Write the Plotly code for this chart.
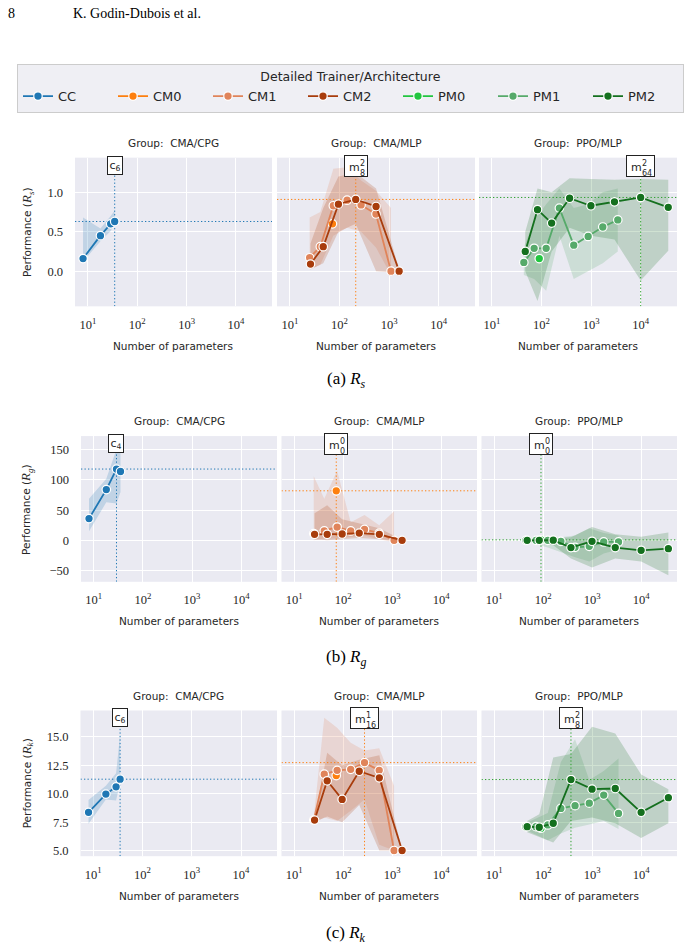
import numpy as np
import plotly.graph_objects as go

W, H = 691, 949

# ---------------- data ----------------
SERIES = ["CC", "CM0", "CM1", "CM2", "PM0", "PM1", "PM2"]
COLORS = {"CC": "#1f77b4", "CM0": "#fd7f0e", "CM1": "#e0845a", "CM2": "#a83c0c",
          "PM0": "#22c640", "PM1": "#56aa6a", "PM2": "#14701e"}
GROUPS = ["CMA/CPG", "CMA/MLP", "PPO/MLP"]
GROUP_SERIES = {"CMA/CPG": ["CC"], "CMA/MLP": ["CM0", "CM1", "CM2"], "PPO/MLP": ["PM0", "PM1", "PM2"]}
GROUP_REF_COLOR = {"CMA/CPG": "#1f77b4", "CMA/MLP": "#ff7f0e", "PPO/MLP": "#2ca02c"}

X_CC = [8, 18, 29, 35]
X_CM0 = [72]
X_CM1 = [25, 41, 75, 142, 272, 542, 1090]
X_CM2 = [26, 47, 95, 212, 545, 1590]
X_PM0 = [90]
X_PM1 = [44, 71, 124, 229, 446, 870, 1715, 3440]
X_PM2 = [47, 83, 160, 368, 990, 2950, 9950, 35800]
XS = {"CC": X_CC, "CM0": X_CM0, "CM1": X_CM1, "CM2": X_CM2, "PM0": X_PM0, "PM1": X_PM1, "PM2": X_PM2}

# R_s
RS_CC = [0.16, 0.45, 0.60, 0.63]
RS_CC_LO = [0.12, 0.38, 0.51, 0.60]
RS_CC_HI = [0.68, 0.54, 0.70, 0.77]
RS_CM0 = [0.60]
RS_CM1 = [0.17, 0.31, 0.83, 0.90, 0.84, 0.725, 0.0]
RS_CM1_LO = [0.02, 0.08, 0.45, 0.55, 0.50, 0.30, -0.05]
RS_CM1_HI = [0.68, 0.75, 1.30, 1.32, 1.15, 1.02, 0.80]
RS_CM2 = [0.09, 0.31, 0.85, 0.91, 0.82, 0.0]
RS_CM2_LO = [0.02, 0.10, 0.50, 0.60, 0.00, -0.02]
RS_CM2_HI = [0.35, 0.80, 1.20, 1.25, 1.05, 0.02]
RS_PM0 = [0.16]
RS_PM1 = [0.11, 0.29, 0.29, 0.80, 0.33, 0.44, 0.56, 0.65]
RS_PM1_LO = [-0.05, -0.10, -0.25, 0.45, -0.10, 0.00, 0.10, 0.25]
RS_PM1_HI = [0.30, 0.65, 0.85, 1.05, 0.80, 0.85, 1.00, 1.05]
RS_PM2 = [0.25, 0.78, 0.61, 0.925, 0.83, 0.88, 0.935, 0.81]
RS_PM2_LO = [0.00, -0.38, 0.25, 0.55, 0.45, 0.40, -0.12, 0.26]
RS_PM2_HI = [0.50, 1.05, 1.00, 1.18, 1.17, 1.16, 1.17, 1.16]

# R_g
RG_CC = [36, 84, 118, 114]
RG_CC_LO = [15, 63, 61, 80]
RG_CC_HI = [69, 102, 151, 148]
RG_CM0 = [82]
RG_CM1 = [11, 15.5, 22, 15.5, 18, 12, 0]
RG_CM1_LO = [0, 3, 3, 5, 8, 2, -3]
RG_CM1_HI = [106, 69, 115, 30, 42, 25, 48]
RG_CM2 = [10, 10, 10.5, 12, 10, 0]
RG_CM2_LO = [2, 0, 2, 4, 2, -1]
RG_CM2_HI = [45, 58, 35, 28, 20, 1]
RG_PM0 = [0.8]
RG_PM1 = [0, 0, 0, -1.6, -11.5, -9.9, -2.7, -2.7]
RG_PM1_LO = [-2, -6, -12, -20, -28, -35, -22, -15]
RG_PM1_HI = [1.5, 2, 2, 5, 8, 20, 12, 8]
RG_PM2 = [0, 0, 0.2, -12, -1.6, -12, -16.5, -13.8]
RG_PM2_LO = [-1, -3, -8, -30, -45, -30, -35, -58]
RG_PM2_HI = [1, 2, 4, 5, 22, 10, 6, 13]

# R_k
RK_CC = [8.36, 9.97, 10.61, 11.28]
RK_CC_LO = [7.35, 9.5, 9.4, 11.0]
RK_CC_HI = [9.45, 10.7, 11.8, 15.2]
RK_CM0 = [11.6]
RK_CM1 = [7.68, 11.72, 12.06, 12.15, 12.74, 12.06, 5.0]
RK_CM1_LO = [7.5, 7.9, 7.6, 8.5, 9.5, 5.5, 5.0]
RK_CM1_HI = [7.9, 16.7, 15.8, 14.5, 13.8, 14.0, 10.7]
RK_CM2 = [7.68, 11.14, 9.5, 11.98, 11.4, 5.0]
RK_CM2_LO = [7.5, 8.0, 7.5, 9.0, 5.0, 5.0]
RK_CM2_HI = [7.9, 13.6, 12.5, 13.0, 13.4, 5.0]
RK_PM0 = [6.96]
RK_PM1 = [7.10, 7.10, 7.25, 8.71, 8.95, 9.17, 9.88, 8.27]
RK_PM1_LO = [6.8, 6.4, 5.9, 6.5, 7.0, 7.3, 7.6, 6.9]
RK_PM1_HI = [7.4, 7.8, 8.3, 12.8, 14.8, 11.2, 12.0, 13.1]
RK_PM2 = [7.1, 7.05, 7.4, 11.25, 10.4, 10.46, 8.36, 9.65]
RK_PM2_LO = [6.6, 6.2, 5.7, 7.6, 7.9, 7.4, 6.1, 7.4]
RK_PM2_HI = [7.6, 8.2, 13.2, 13.5, 15.9, 15.3, 11.7, 10.4]

# best-model labels: (base letter, superscript, subscript)
BEST_RS = [("c", "", "6"), ("m", "2", "8"), ("m", "2", "64")]
BEST_RG = [("c", "", "4"), ("m", "0", "0"), ("m", "0", "0")]
BEST_RK = [("c", "", "6"), ("m", "1", "16"), ("m", "2", "8")]

ROWS = [
    {"Y": {"CC": RS_CC, "CM0": RS_CM0, "CM1": RS_CM1, "CM2": RS_CM2, "PM0": RS_PM0, "PM1": RS_PM1, "PM2": RS_PM2},
     "LO": {"CC": RS_CC_LO, "CM1": RS_CM1_LO, "CM2": RS_CM2_LO, "PM1": RS_PM1_LO, "PM2": RS_PM2_LO},
     "HI": {"CC": RS_CC_HI, "CM1": RS_CM1_HI, "CM2": RS_CM2_HI, "PM1": RS_PM1_HI, "PM2": RS_PM2_HI},
     "best_labels": BEST_RS, "sym": "s", "cap": "(a)"},
    {"Y": {"CC": RG_CC, "CM0": RG_CM0, "CM1": RG_CM1, "CM2": RG_CM2, "PM0": RG_PM0, "PM1": RG_PM1, "PM2": RG_PM2},
     "LO": {"CC": RG_CC_LO, "CM1": RG_CM1_LO, "CM2": RG_CM2_LO, "PM1": RG_PM1_LO, "PM2": RG_PM2_LO},
     "HI": {"CC": RG_CC_HI, "CM1": RG_CM1_HI, "CM2": RG_CM2_HI, "PM1": RG_PM1_HI, "PM2": RG_PM2_HI},
     "best_labels": BEST_RG, "sym": "g", "cap": "(b)"},
    {"Y": {"CC": RK_CC, "CM0": RK_CM0, "CM1": RK_CM1, "CM2": RK_CM2, "PM0": RK_PM0, "PM1": RK_PM1, "PM2": RK_PM2},
     "LO": {"CC": RK_CC_LO, "CM1": RK_CM1_LO, "CM2": RK_CM2_LO, "PM1": RK_PM1_LO, "PM2": RK_PM2_LO},
     "HI": {"CC": RK_CC_HI, "CM1": RK_CM1_HI, "CM2": RK_CM2_HI, "PM1": RK_PM1_HI, "PM2": RK_PM2_HI},
     "best_labels": BEST_RK, "sym": "k", "cap": "(c)"},
]
Y_TICKS = [[0, 0.5, 1.0], [-50, 0, 50, 100, 150], [5, 7.5, 10, 12.5, 15]]
Y_TICKFMT = [".1f", "d", ".1f"]
Y_RANGES = [[-0.447, 1.44], [-68.6, 172.6], [4.5, 17.33]]
X_LOG_RANGE = [0.74, 4.73]
X_TICKS = [10, 100, 1000, 10000]
X_TICKTEXT = ["10<sup>1</sup>", "10<sup>2</sup>", "10<sup>3</sup>", "10<sup>4</sup>"]

# ---------------- layout geometry (pixels) ----------------
ROW_Y = [(158, 307), (437, 583), (712, 858)]
COL_X = [[(75, 272), (277, 475), (479, 677)],
         [(81, 277), (281.5, 477), (481.5, 677)],
         [(80.5, 277), (281.5, 477), (481.5, 677)]]

SANS = "DejaVu Sans"
SERIF = "Liberation Serif"
TXT = "#262626"
DOT = "1.3px,2.2px"


def px(x):
    return x / W


def py(y):
    return 1 - y / H


def rgba(hexc, a):
    h = hexc.lstrip("#")
    return "rgba(%d,%d,%d,%g)" % (int(h[0:2], 16), int(h[2:4], 16), int(h[4:6], 16), a)


fig = go.Figure()
annotations = []
layout_axes = {}
legend_done = set()

for r, row in enumerate(ROWS):
    for c, grp in enumerate(GROUPS):
        idx = r * 3 + c + 1
        xa = "x" if idx == 1 else "x%d" % idx
        ya = "y" if idx == 1 else "y%d" % idx
        x0, x1 = COL_X[r][c]
        y0, y1 = ROW_Y[r]
        layout_axes["xaxis" if idx == 1 else "xaxis%d" % idx] = dict(
            type="log", range=X_LOG_RANGE, domain=[px(x0), px(x1)], anchor=ya,
            tickvals=X_TICKS, ticktext=X_TICKTEXT, showgrid=True, gridcolor="white", gridwidth=1.2,
            zeroline=False, showline=False, ticks="", ticklabelstandoff=9,
            tickfont=dict(family=SERIF, size=12.5, color=TXT))
        layout_axes["yaxis" if idx == 1 else "yaxis%d" % idx] = dict(
            range=Y_RANGES[r], domain=[py(y1), py(y0)], anchor=xa,
            tickvals=Y_TICKS[r], tickformat=Y_TICKFMT[r], showticklabels=(c == 0),
            showgrid=True, gridcolor="white", gridwidth=1.2, zeroline=False, showline=False,
            ticks="", ticklabelstandoff=11, tickfont=dict(family=SERIF, size=12.5, color=TXT))

        sers = GROUP_SERIES[grp]
        # bands
        for s in sers:
            if s in row["LO"]:
                xs = XS[s]
                fig.add_trace(go.Scatter(x=xs, y=row["HI"][s], xaxis=xa, yaxis=ya, mode="lines",
                                         line=dict(width=0, color=COLORS[s]), showlegend=False,
                                         hoverinfo="skip"))
                fig.add_trace(go.Scatter(x=xs, y=row["LO"][s], xaxis=xa, yaxis=ya, mode="lines",
                                         line=dict(width=0, color=COLORS[s]), fill="tonexty",
                                         fillcolor=rgba(COLORS[s], 0.2), showlegend=False,
                                         hoverinfo="skip"))
        # best reference lines (derived from data)
        best_val, best_x = None, None
        for s in sers:
            ys = row["Y"][s]
            i = int(np.argmax(ys))
            if best_val is None or ys[i] > best_val:
                best_val, best_x = ys[i], XS[s][i]
        rc = GROUP_REF_COLOR[grp]
        fig.add_trace(go.Scatter(x=[best_x, best_x], y=Y_RANGES[r], xaxis=xa, yaxis=ya, mode="lines",
                                 line=dict(color=rc, width=1, dash=DOT), showlegend=False,
                                 hoverinfo="skip"))
        fig.add_trace(go.Scatter(x=[10 ** X_LOG_RANGE[0], 10 ** X_LOG_RANGE[1]], y=[best_val, best_val],
                                 xaxis=xa, yaxis=ya, mode="lines",
                                 line=dict(color=rc, width=1, dash=DOT), showlegend=False,
                                 hoverinfo="skip"))
        # label box
        base, sup, sub = row["best_labels"][c]
        lx = float(np.log10(best_x))
        if not sup:
            annotations.append(dict(xref=xa, yref=ya + " domain", x=lx, y=1, yshift=2,
                                    xanchor="center", yanchor="top", text="%s<sub>%s</sub>" % (base, sub),
                                    showarrow=False, bgcolor="white", bordercolor="#222222",
                                    borderwidth=1, borderpad=1.5,
                                    font=dict(family=SANS, size=11, color=TXT)))
        else:
            sw = max(len(sup), len(sub)) * 5.1
            bw = 17 + sw
            annotations.append(dict(xref=xa, yref=ya + " domain", x=lx, y=1, yshift=3,
                                    xanchor="center", yanchor="top", text=" ", width=bw, height=20,
                                    showarrow=False, bgcolor="white", bordercolor="#222222",
                                    borderwidth=1, borderpad=0,
                                    font=dict(family=SANS, size=11, color=TXT)))
            annotations.append(dict(xref=xa, yref=ya + " domain", x=lx, y=1, yshift=-9.5,
                                    xshift=-bw / 2 + 3, xanchor="left", yanchor="middle", text=base,
                                    showarrow=False, borderpad=0,
                                    font=dict(family=SANS, size=11, color=TXT)))
            annotations.append(dict(xref=xa, yref=ya + " domain", x=lx, y=1, yshift=-10.5,
                                    xshift=-bw / 2 + 3 + 11.2, xanchor="left", yanchor="middle",
                                    text="%s<br>%s" % (sup, sub), align="left",
                                    showarrow=False, borderpad=0,
                                    font=dict(family=SANS, size=8, color=TXT)))
        # lines
        for s in sers:
            show = s not in legend_done
            legend_done.add(s)
            fig.add_trace(go.Scatter(x=XS[s], y=row["Y"][s], xaxis=xa, yaxis=ya, mode="lines+markers",
                                     name=s, legendrank=SERIES.index(s) + 1, showlegend=show,
                                     line=dict(color=COLORS[s], width=1.8),
                                     marker=dict(size=8.5, color=COLORS[s], line=dict(color="white", width=1.2))))
        # subplot title
        annotations.append(dict(xref="paper", yref="paper", x=px((x0 + x1) / 2), y=py(y0 - 15),
                                xanchor="center", yanchor="middle", showarrow=False,
                                text="Group:  " + grp, font=dict(family=SANS, size=10.5, color=TXT)))
        # x title
        annotations.append(dict(xref="paper", yref="paper", x=px((x0 + x1) / 2), y=py(y1 + 39.5),
                                xanchor="center", yanchor="middle", showarrow=False,
                                text="Number of parameters", font=dict(family=SANS, size=10.5, color=TXT)))
    # y title
    y0, y1 = ROW_Y[r]
    annotations.append(dict(xref="paper", yref="paper", x=px(27), y=py((y0 + y1) / 2),
                            xanchor="center", yanchor="middle", showarrow=False, textangle=-90,
                            text="Performance (<span style='font-family:Liberation Serif;font-size:13px'><i>R<sub>%s</sub></i></span>)" % row["sym"],
                            font=dict(family=SANS, size=10.5, color=TXT)))
    # caption
    cap_y = [381, 659, 936][r]
    annotations.append(dict(xref="paper", yref="paper", x=px(346), y=py(cap_y),
                            xanchor="center", yanchor="middle", showarrow=False,
                            text="%s <i>R<sub>%s</sub></i>" % (row["cap"], row["sym"]),
                            font=dict(family=SERIF, size=17, color="black")))

# page header
annotations.append(dict(xref="paper", yref="paper", x=px(6), y=py(14), xanchor="left", yanchor="middle",
                        showarrow=False, text="8", font=dict(family=SERIF, size=14, color="black")))
annotations.append(dict(xref="paper", yref="paper", x=px(71), y=py(14), xanchor="left", yanchor="middle",
                        showarrow=False, text="K. Godin-Dubois et al.",
                        font=dict(family=SERIF, size=14, color="black")))

fig.update_layout(
    width=W, height=H, margin=dict(l=0, r=0, t=0, b=0), autosize=False,
    paper_bgcolor="white", plot_bgcolor="#EAEAF2",
    annotations=annotations,
    legend=dict(orientation="h", x=px(17), y=py(64), xanchor="left", yanchor="top",
                bgcolor="#EFEFF4", bordercolor="#CCCCCC", borderwidth=1, traceorder="normal",
                font=dict(family=SANS, size=13, color=TXT),
                title=dict(text="Detailed Trainer/Architecture", side="top center",
                           font=dict(family=SANS, size=12.5, color=TXT)),
                entrywidth=50, entrywidthmode="pixels", itemwidth=30, tracegroupgap=0),
    **layout_axes,
)

fig.write_html("out.html")
